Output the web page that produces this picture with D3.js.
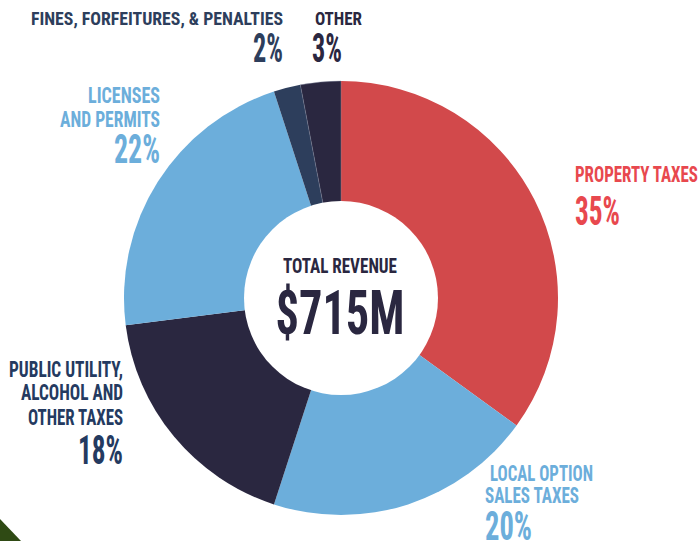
<!DOCTYPE html>
<html><head><meta charset="utf-8">
<script src="https://cdn.jsdelivr.net/npm/d3@7"></script>
<style>html,body{margin:0;padding:0;background:#fff;}svg{display:block;}</style>
</head><body>
<svg id="chart" width="700" height="541"></svg>
<script>
const categories = ["Property Taxes","Local Option Sales Taxes","Public Utility, Alcohol and Other Taxes","Licenses and Permits","Fines, Forfeitures, & Penalties","Other"];
const shares = [35, 20, 18, 22, 2, 3];
const sliceColors = ["#d2494b","#6caedb","#2a2740","#6caedb","#2d3e5c","#2a2740"];
const labelColors = ["#e8484e","#6caedb","#243a60","#6caedb","#2d3e5c","#2a2740"];
const totalLabel = ["TOTAL REVENUE","$715M"];

const svg = d3.select("#chart");
const cx = 341, cy = 298, R = 217, r = 97;

// decorative corner leaf
svg.append("path").attr("d","M0,519 L21,541 L0,541 Z").attr("fill","#2f4a14");

const pie = d3.pie().sort(null).value(d => d.v).startAngle(0).endAngle(2*Math.PI);
const data = categories.map((c,i)=>({c, v:shares[i], col:sliceColors[i]}));
const arc = d3.arc().innerRadius(0).outerRadius(R);
const g = svg.append("g").attr("transform",`translate(${cx},${cy})`);
g.selectAll("path.slice").data(pie(data)).join("path")
  .attr("class","slice").attr("d",arc).attr("fill",d=>d.data.col)
  .attr("stroke",(d,i)=> i===5 ? "#8a93a8" : "none").attr("stroke-width",0.4);
g.append("circle").attr("r",r).attr("fill","#fff");

const FONT = "'Liberation Sans Narrow','Roboto Condensed','DejaVu Sans Condensed',Roboto,sans-serif";
function txt(x,y,s,size,color,anchor,len){
  const t = svg.append("text").attr("x",x).attr("y",y).text(s)
    .attr("font-family",FONT).attr("font-weight","700")
    .attr("font-size",size).attr("fill",color).attr("text-anchor",anchor);
  if(len){t.attr("textLength",len).attr("lengthAdjust","spacingAndGlyphs");}
  return t;
}
const lines = [
  ["FINES, FORFEITURES, & PENALTIES",283,25,18,4,"end",252],
  [shares[4]+"%",283,62,41,4,"end",30],
  ["OTHER",315,25,18,5,"start",47],
  [shares[5]+"%",312,62,41,5,"start",30],
  ["LICENSES",160,103,22,3,"end",72],
  ["AND PERMITS",160,127,22,3,"end",100],
  [shares[3]+"%",160,163,41,3,"end",46],
  ["PROPERTY TAXES",575,182,22,0,"start",123],
  [shares[0]+"%",575,225,41,0,"start",45],
  ["PUBLIC UTILITY,",123,377,22,2,"end",114],
  ["ALCOHOL AND",123,400,22,2,"end",102],
  ["OTHER TAXES",123,425,22,2,"end",95],
  [shares[2]+"%",123,464,41,2,"end",45],
  ["LOCAL OPTION",490,481,22,1,"start",103],
  ["SALES TAXES",485,503,22,1,"start",94],
  [shares[1]+"%",485,540,41,1,"start",47]
];
lines.forEach(l => txt(l[1],l[2],l[0],l[3],labelColors[l[4]],l[5],l[6]));
txt(340,273,totalLabel[0],21,"#2a2740","middle",114);
txt(340,334,totalLabel[1],61,"#2a2740","middle",129);
</script>
</body></html>
